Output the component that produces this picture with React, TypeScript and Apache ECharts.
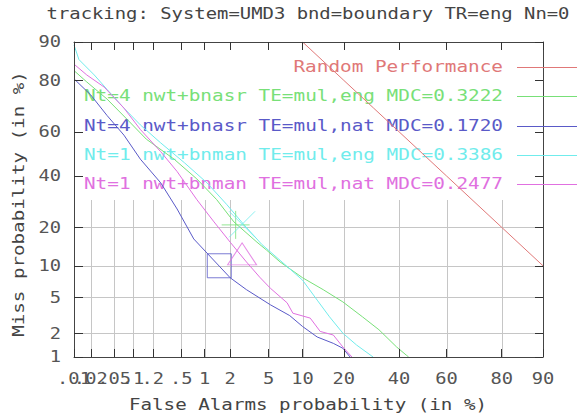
import React, { useEffect, useRef } from 'react';
import * as echarts from 'echarts';

const CHART_TITLE = 'tracking: System=UMD3 bnd=boundary TR=eng Nn=0';
const X_AXIS_NAME = 'False Alarms probability (in %)';
const Y_AXIS_NAME = 'Miss probability (in %)';

const xTickPct = [0.01, 0.02, 0.05, 0.1, 0.2, 0.5, 1, 2, 5, 10, 20, 40, 60, 80, 90];
const xTickLabels = ['.01', '.02', '.05', '.1', '.2', '.5', '1', '2', '5', '10', '20', '40', '60', '80', '90'];
const yTickPct = [1, 2, 5, 10, 20, 40, 60, 80, 90];
const yTickLabels = ['1', '2', '5', '10', '20', '40', '60', '80', '90'];

const legendNames = [
  'Random Performance',
  'Nt=4 nwt+bnasr TE=mul,eng MDC=0.3222',
  'Nt=4 nwt+bnasr TE=mul,nat MDC=0.1720',
  'Nt=1 nwt+bnman TE=mul,eng MDC=0.3386',
  'Nt=1 nwt+bnman TE=mul,nat MDC=0.2477',
];
const legendColors = ['#e07878', '#78e078', '#5a5ac8', '#70ecec', '#e070e0'];

// Random performance (Pmiss = 100 - Pfa)
const randomFa = [10, 20, 30, 40, 50, 60, 70, 80, 90];
const randomMiss = [90, 80, 70, 60, 50, 40, 30, 20, 10];

// Nt=4 nwt+bnasr TE=mul,eng
const nt4EngFa = [0.01, 0.017, 0.038, 0.08, 0.16, 0.4, 0.8, 1.4, 2.2, 3.85, 4.8, 6.4, 10, 14.4, 19.7, 26, 32, 39, 43, 44];
const nt4EngMiss = [83, 79.5, 73.5, 65.5, 56.7, 47.6, 38.7, 30, 21.8, 15.6, 13.5, 10.8, 7.8, 6.0, 4.5, 3.1, 2.2, 1.35, 1.06, 1.0];

// Nt=4 nwt+bnasr TE=mul,nat
const nt4NatFa = [0.01, 0.02, 0.038, 0.072, 0.13, 0.26, 0.44, 0.73, 1.07, 2.0, 3.0, 5.2, 7.8, 10, 13, 17, 19.7, 21.9];
const nt4NatMiss = [80.5, 75, 67, 58.5, 47.6, 37, 26.4, 16.5, 12.8, 7.8, 6.0, 4.2, 3.2, 2.4, 1.8, 1.5, 1.3, 1.0];

// Nt=1 nwt+bnman TE=mul,eng
const nt1EngFa = [0.01, 0.0123, 0.023, 0.038, 0.072, 0.13, 0.26, 0.55, 1.07, 1.84, 2.8, 4.3, 6.8, 10, 13, 16, 19.7, 24, 29.8];
const nt1EngMiss = [89.4, 86, 81.7, 77, 70, 63, 55, 46, 37, 28, 21, 15, 10.6, 7.4, 4.7, 3.1, 2.0, 1.43, 1.0];

// Nt=1 nwt+bnman TE=mul,nat
const nt1NatFa = [0.01, 0.017, 0.034, 0.072, 0.13, 0.26, 0.44, 0.8, 1.3, 2.0, 3.0, 4.1, 5.2, 7.4, 8.3, 11.5, 13.7, 17, 19.7, 22.5];
const nt1NatMiss = [84.8, 81.7, 77.8, 70, 61, 51, 42, 30, 21.8, 15.6, 10.8, 7.9, 6.2, 4.4, 3.4, 3.0, 2.1, 1.9, 1.35, 1.0];

// Minimum DCF points (Pfa %, Pmiss %)
const mdcFa = [2.3, 1.5, 2.7, 2.7];
const mdcMiss = [20.8, 10, 21, 12.6];
const mdcSymbols = ['path://M0,12L24,12M12,0L12,24', 'rect', 'path://M0,0L24,24M24,0L0,24', 'triangle'];
const mdcSizes: any[] = [28, 24, 26, [29, 22]];

const FONT = 'DejaVu Sans Mono';

function probit(p: number): number {
  const a = [-3.969683028665376e1, 2.209460984245205e2, -2.759285104469687e2, 1.38357751867269e2, -3.066479806614716e1, 2.506628277459239];
  const b = [-5.447609879822406e1, 1.615858368580409e2, -1.556989798598866e2, 6.680131188771972e1, -1.328068155288572e1];
  const c = [-7.784894002430293e-3, -3.223964580411365e-1, -2.400758277161838, -2.549732539343734, 4.374664141464968, 2.938163982698783];
  const d = [7.784695709041462e-3, 3.224671290700398e-1, 2.445134137142996, 3.754408661907416];
  const pl = 0.02425;
  const ph = 1 - pl;
  let q: number;
  let r: number;
  if (p < pl) {
    q = Math.sqrt(-2 * Math.log(p));
    return (((((c[0] * q + c[1]) * q + c[2]) * q + c[3]) * q + c[4]) * q + c[5]) / ((((d[0] * q + d[1]) * q + d[2]) * q + d[3]) * q + 1);
  }
  if (p <= ph) {
    q = p - 0.5;
    r = q * q;
    return ((((((a[0] * r + a[1]) * r + a[2]) * r + a[3]) * r + a[4]) * r + a[5]) * q) / (((((b[0] * r + b[1]) * r + b[2]) * r + b[3]) * r + b[4]) * r + 1);
  }
  q = Math.sqrt(-2 * Math.log(1 - p));
  return -(((((c[0] * q + c[1]) * q + c[2]) * q + c[3]) * q + c[4]) * q + c[5]) / ((((d[0] * q + d[1]) * q + d[2]) * q + d[3]) * q + 1);
}

const fz = (pct: number) => probit(pct / 100);

export default function App() {
  const ref = useRef<HTMLDivElement>(null);

  useEffect(() => {
    const el = ref.current!;
    const chart = echarts.init(el, null, { renderer: 'svg' });

    const xVals = xTickPct.map(fz);
    const yVals = yTickPct.map(fz);
    const X_MIN = xVals[0];
    const X_MAX = xVals[xVals.length - 1];
    const Y_MIN = yVals[0];
    const Y_MAX = yVals[yVals.length - 1];

    const GRID_COLOR = '#c6c6c6';
    const FRAME = '#444';
    const TEXT = '#555';
    const LABEL_SCALE = 1.25;

    const axisCommon = {
      type: 'value' as const,
      z: 3,
      axisLine: { show: true, onZero: false, lineStyle: { color: FRAME, width: 1 } },
      splitLine: { show: false },
      axisLabel: { show: false },
    };

    const xAxis = [
      {
        ...axisCommon,
        position: 'bottom',
        min: X_MIN,
        max: X_MAX,
        axisTick: { show: true, inside: true, length: 8, customValues: xVals, lineStyle: { color: '#333' } },
      },
      {
        ...axisCommon,
        position: 'top',
        min: X_MIN,
        max: X_MAX,
        axisTick: { show: true, inside: true, length: 8, customValues: xVals, lineStyle: { color: '#333' } },
      },
    ];

    const yAxis = [
      {
        ...axisCommon,
        position: 'left',
        min: Y_MIN,
        max: Y_MAX,
        axisTick: { show: true, inside: true, length: 9, customValues: yVals, lineStyle: { color: '#333' } },
      },
      {
        ...axisCommon,
        position: 'right',
        min: Y_MIN,
        max: Y_MAX,
        axisTick: { show: true, inside: true, length: 8, customValues: yVals, lineStyle: { color: '#333' } },
      },
    ];

    const toPairs = (fa: number[], miss: number[]) => fa.map((f, i) => [fz(f), fz(miss[i])]);

    const curveData = [
      toPairs(randomFa, randomMiss),
      toPairs(nt4EngFa, nt4EngMiss),
      toPairs(nt4NatFa, nt4NatMiss),
      toPairs(nt1EngFa, nt1EngMiss),
      toPairs(nt1NatFa, nt1NatMiss),
    ];

    const series: any[] = [
      {
        type: 'custom',
        name: 'vgrid',
        silent: true,
        z: 0,
        data: xVals.slice(1, -1).map((v) => [v, Y_MIN]),
        renderItem: (_p: any, api: any) => {
          const a = api.coord([api.value(0), Y_MIN]);
          const b = api.coord([api.value(0), Y_MAX]);
          const x = Math.round(a[0]) + 0.5;
          return { type: 'line', shape: { x1: x, y1: a[1], x2: x, y2: b[1] }, style: { stroke: GRID_COLOR, lineWidth: 1 } };
        },
      },
      {
        type: 'custom',
        name: 'hgrid',
        silent: true,
        z: 0,
        data: yVals.slice(1, -1).map((v) => [X_MIN, v]),
        renderItem: (_p: any, api: any) => {
          const a = api.coord([X_MIN, api.value(1)]);
          const b = api.coord([X_MAX, api.value(1)]);
          const y = Math.round(a[1]) + 0.5;
          return { type: 'line', shape: { x1: a[0], y1: y, x2: b[0], y2: y }, style: { stroke: GRID_COLOR, lineWidth: 1 } };
        },
      },
      {
        type: 'custom',
        name: 'xlabels',
        silent: true,
        z: 3,
        clip: false,
        data: xVals.map((v, i) => [v, Y_MIN, i]),
        renderItem: (_p: any, api: any) => {
          const a = api.coord([api.value(0), Y_MIN]);
          return {
            type: 'text',
            x: a[0],
            y: a[1] + 22,
            scaleX: LABEL_SCALE,
            style: { text: xTickLabels[api.value(2)], fill: TEXT, fontSize: 15, fontFamily: FONT, align: 'center', verticalAlign: 'middle' },
          };
        },
      },
      {
        type: 'custom',
        name: 'ylabels',
        silent: true,
        z: 3,
        clip: false,
        data: yVals.map((v, i) => [X_MIN, v, i]),
        renderItem: (_p: any, api: any) => {
          const a = api.coord([X_MIN, api.value(1)]);
          return {
            type: 'text',
            x: a[0] - 13,
            y: a[1],
            scaleX: LABEL_SCALE,
            style: { text: yTickLabels[api.value(2)], fill: TEXT, fontSize: 15, fontFamily: FONT, align: 'right', verticalAlign: 'middle' },
          };
        },
      },
      ...curveData.map((d, i) => ({
        type: 'line',
        name: legendNames[i],
        data: d,
        showSymbol: false,
        symbol: 'none',
        z: 2,
        lineStyle: { color: legendColors[i], width: 1 },
      })),
      ...mdcFa.map((f, i) => ({
        type: 'scatter',
        name: 'mdc' + i,
        data: [[fz(f), fz(mdcMiss[i])]],
        symbol: mdcSymbols[i],
        symbolSize: mdcSizes[i],
        z: 2,
        itemStyle: { color: 'rgba(0,0,0,0)', borderColor: legendColors[i + 1], borderWidth: 1 },
      })),
    ];

    const legendRowY = [67, 96, 126, 155, 184];

    const graphic: any[] = [
      { type: 'rect', z: 1, silent: true, shape: { x: 75, y: 43, width: 467, height: 157 }, style: { fill: '#fff' } },
      {
        type: 'text', x: 308, y: 14, scaleX: 1.26, z: 4,
        style: { text: CHART_TITLE, fill: '#444', fontSize: 15, fontFamily: FONT, align: 'center', verticalAlign: 'middle' },
      },
      {
        type: 'text', x: 308, y: 405, scaleX: 1.28, z: 4,
        style: { text: X_AXIS_NAME, fill: '#444', fontSize: 15, fontFamily: FONT, align: 'center', verticalAlign: 'middle' },
      },
      {
        type: 'text', x: 19, y: 204, rotation: Math.PI / 2, scaleX: 1.28, z: 4,
        style: { text: Y_AXIS_NAME, fill: '#444', fontSize: 15, fontFamily: FONT, align: 'center', verticalAlign: 'middle' },
      },
      ...legendNames.map((n, i) => ({
        type: 'text', x: 503, y: legendRowY[i], scaleX: 1.29, z: 1,
        style: { text: n, fill: legendColors[i], fontSize: 15, fontFamily: FONT, align: 'right', verticalAlign: 'middle' },
      })),
      ...legendNames.map((_n, i) => ({
        type: 'line', z: 4, silent: true,
        shape: { x1: 517, y1: legendRowY[i] + 0.5, x2: 577, y2: legendRowY[i] + 0.5 },
        style: { stroke: legendColors[i], lineWidth: 1 },
      })),
    ];

    chart.setOption({
      animation: false,
      backgroundColor: '#fff',
      grid: { left: 74, right: 34, top: 42, bottom: 57, show: false },
      xAxis,
      yAxis,
      series,
      graphic,
    });

    return () => chart.dispose();
  }, []);

  return <div ref={ref} style={{ position: 'fixed', left: 0, top: 0, width: 577, height: 414, background: '#fff' }} />;
}
